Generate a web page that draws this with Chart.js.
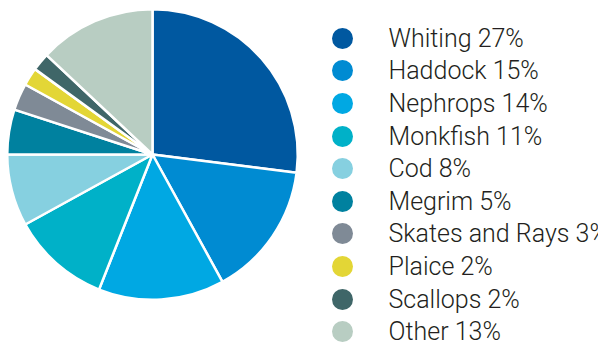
<!DOCTYPE html>
<html>
<head>
<meta charset="utf-8">
<script src="https://cdn.jsdelivr.net/npm/chart.js@4/dist/chart.umd.min.js"></script>
<style>
  html, body { margin: 0; padding: 0; background: #fff; width: 598px; height: 343px; overflow: hidden; }
  #wrap { position: relative; width: 598px; height: 343px; overflow: hidden; }
  #pie { position: absolute; left: 0; top: 0; }
  #legend { position: absolute; left: 332px; top: 22px; margin: 0; padding: 0; list-style: none;
            font-family: Roboto, "Liberation Sans", Arial, sans-serif; font-weight: 300; font-size: 25px;
            color: #231f20; white-space: nowrap; }
  #legend li { height: 32.6px; display: flex; align-items: center; }
  #legend .dot { width: 21px; height: 21px; border-radius: 50%; display: inline-block; margin-right: 35.5px; flex: none; }
</style>
</head>
<body>
<div id="wrap">
  <canvas id="pie" width="305" height="309"></canvas>
  <ul id="legend"></ul>
</div>
<script>
const categories = ['Whiting', 'Haddock', 'Nephrops', 'Monkfish', 'Cod', 'Megrim', 'Skates and Rays', 'Plaice', 'Scallops', 'Other'];
const shares = [27, 15, 14, 11, 8, 5, 3, 2, 2, 13];
const sliceColors = ['#0058a0', '#008bd2', '#00a8e3', '#00b1c8', '#86d0e0', '#00819f', '#7f8a96', '#e3d636', '#3f6668', '#b8cdc2'];

const legendLabels = categories.map((c, i) => c + ' ' + shares[i] + '%');

new Chart(document.getElementById('pie'), {
  type: 'pie',
  data: {
    labels: legendLabels,
    datasets: [{
      data: shares,
      backgroundColor: sliceColors,
      borderColor: '#ffffff',
      borderWidth: 2.5
    }]
  },
  options: {
    responsive: false,
    animation: false,
    layout: { padding: 6 },
    plugins: {
      legend: { display: false },
      tooltip: { enabled: false }
    }
  }
});

const ul = document.getElementById('legend');
legendLabels.forEach((t, i) => {
  const li = document.createElement('li');
  const dot = document.createElement('span');
  dot.className = 'dot';
  dot.style.background = sliceColors[i];
  li.appendChild(dot);
  li.appendChild(document.createTextNode(t));
  ul.appendChild(li);
});
</script>
</body>
</html>
